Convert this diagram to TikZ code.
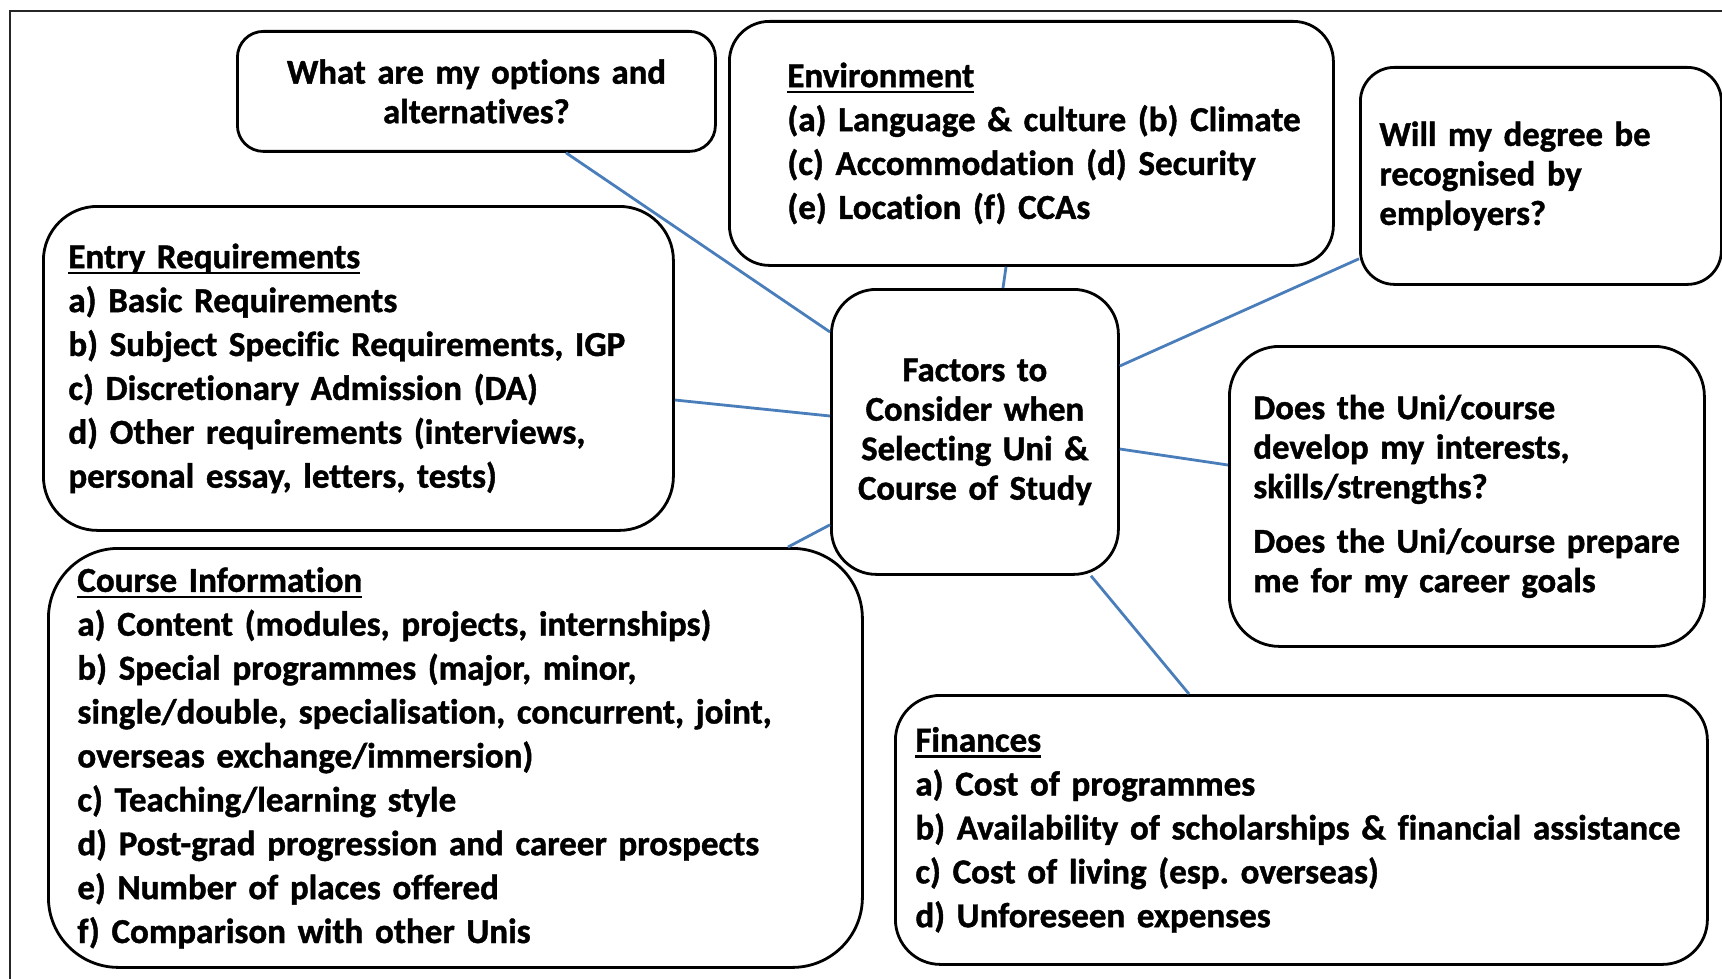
\documentclass[tikz,border=0pt]{standalone}
\usepackage{fontspec}
\setmainfont{Carlito-Regular.ttf}[BoldFont=Carlito-Bold.ttf,Ligatures=NoCommon,BoldFeatures={FakeBold=1.2}]
\frenchspacing
\definecolor{linkblue}{RGB}{74,126,187}
\newcommand{\myul}[1]{\leavevmode\setbox0\hbox{#1}\rlap{\rule[-6pt]{\wd0}{2.2pt}}\box0}
\tikzset{
  box/.style={draw=black, line width=2.8pt, fill=white, anchor=north west,
    inner xsep=0pt, inner ysep=0pt},
  qtext/.style={font=\bfseries\fontsize{34.7}{39.5}\selectfont},
  ltext/.style={font=\bfseries\fontsize{35}{43.9}\selectfont},
  link/.style={draw=linkblue, line width=2.8pt},
}
\begin{document}
\begin{tikzpicture}[x=1pt,y=-1pt]
\useasboundingbox (0,0) rectangle (1722,979);
\draw[line width=2pt, black!85] (10,11) rectangle (1800,1100);

\node[box, qtext, rounded corners=26pt, minimum width=478pt, minimum height=120pt,
  text width=478pt, align=center] (opt) at (236,30) {What are my options and\\alternatives?};

\node[box, ltext, rounded corners=40pt, minimum width=604pt, minimum height=244pt,
  text width=604pt, align=left] (env) at (728,20)
  {\leftskip=58pt\relax\myul{Environment}\\(a) Language \& culture (b) Climate\\(c) Accommodation (d) Security\\(e) Location (f) CCAs\par};

\node[box, qtext, rounded corners=34pt, minimum width=361pt, minimum height=217pt,
  text width=361pt, align=left] (deg) at (1359,66)
  {\leftskip=19pt\relax Will my degree be\\recognised by\\employers?\par};

\node[box, ltext, rounded corners=54pt, minimum width=630pt, minimum height=324pt,
  text width=630pt, align=left] (entry) at (42,205)
  {\leftskip=25pt\relax\myul{Entry Requirements}\\a) Basic Requirements\\b) Subject Specific Requirements, IGP\\c) Discretionary Admission (DA)\\d) Other requirements (interviews,\\personal essay, letters, tests)\par};

\node[box, qtext, rounded corners=45pt, minimum width=287pt, minimum height=285pt,
  text width=287pt, align=center] (ctr) at (830,288)
  {Factors to\\Consider when\\Selecting Uni \&\\Course of Study};

\node[box, qtext, rounded corners=50pt, minimum width=475pt, minimum height=300pt,
  text width=475pt, align=left] (uni) at (1228,345)
  {\leftskip=24pt\relax Does the Uni/course\\develop my interests,\\skills/strengths?\\[15pt]Does the Uni/course prepare\\me for my career goals\par};

\node[box, ltext, rounded corners=70pt, minimum width=814pt, minimum height=419pt,
  text width=814pt, align=left] (course) at (47,547)
  {\leftskip=29pt\relax\myul{Course Information}\\a) Content (modules, projects, internships)\\b) Special programmes (major, minor,\\single/double, specialisation, concurrent, joint,\\overseas exchange/immersion)\\c) Teaching/learning style\\d) Post-grad progression and career prospects\\e) Number of places offered\\f) Comparison with other Unis\par};

\node[box, ltext, rounded corners=45pt, minimum width=812pt, minimum height=269pt,
  text width=812pt, align=left] (fin) at (894,694)
  {\leftskip=20pt\relax\myul{Finances}\\a) Cost of programmes\\b) Availability of scholarships \& financial assistance\\c) Cost of living (esp. overseas)\\d) Unforeseen expenses\par};

\draw[link] ([xshift=330pt]opt.south west) -- ([yshift=-44pt]ctr.north west);
\draw[link] ([xshift=278pt]env.south west) -- ([xshift=173pt]ctr.north west);
\draw[link] ([yshift=27pt]deg.south west) -- ([yshift=-78pt]ctr.north east);
\draw[link] ([yshift=-195pt]entry.north east) -- ([yshift=-128pt]ctr.north west);
\draw[link] ([yshift=-120pt]uni.north west) -- ([yshift=-161pt]ctr.north east);
\draw[link] ([xshift=741pt]course.north west) -- ([yshift=51pt]ctr.south west);
\draw[link] ([xshift=295pt]fin.north west) -- ([xshift=261pt]ctr.south west);
\end{tikzpicture}
\end{document}
